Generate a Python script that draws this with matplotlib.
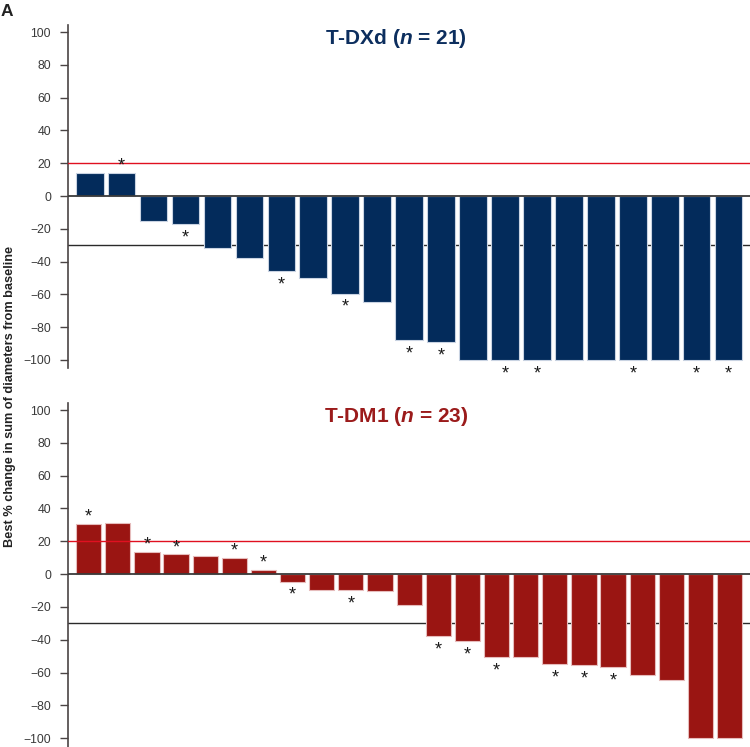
import matplotlib
matplotlib.use("Agg")
import matplotlib.pyplot as plt
import numpy as np

plt.rcParams['font.family'] = ['Liberation Sans', 'DejaVu Sans']
plt.rcParams['mathtext.fontset'] = 'custom'
plt.rcParams['mathtext.it'] = 'Liberation Sans:italic:bold'
plt.rcParams['mathtext.rm'] = 'Liberation Sans:bold'

# ---- data ----
tdxd_values = [14, 14, -15, -17, -32, -38, -45.5, -50, -59.5, -64.5, -88, -89,
               -100, -100, -100, -100, -100, -100, -100, -100, -100]
tdxd_star = [0, 1, 0, 1, 0, 0, 1, 0, 1, 0, 1, 1, 0, 1, 1, 0, 0, 1, 0, 1, 1]

tdm1_values = [30.5, 31, 13.5, 12, 11, 9.8, 2.5, -4.5, -9.5, -9.5, -10.5, -18.5,
               -37.5, -40.5, -50.5, -50.5, -54.5, -55.5, -56.5, -61.5, -64.5, -100, -100]
tdm1_star = [1, 0, 1, 1, 0, 1, 1, 1, 0, 1, 0, 0, 1, 1, 1, 0, 1, 1, 1, 0, 0, 0, 0]

yticks = [100, 80, 60, 40, 20, 0, -20, -40, -60, -80, -100]
pd_threshold = 20
pr_threshold = -30

W, H = 750, 747
fig = plt.figure(figsize=(W / 100, H / 100), dpi=100)

def fx(px):
    return px / W

def fy(py):
    return 1 - py / H

spine_col = '#4a4444'

def panel(ax_rect, values, stars, bar_col, edge_col, ylim, xpad):
    ax = fig.add_axes(ax_rect)
    x = np.arange(len(values))
    ax.bar(x, values, width=0.865, color=bar_col, edgecolor=edge_col,
           linewidth=0.8, zorder=2)
    ax.axhline(0, color='#3a3a3a', lw=1.3, zorder=3)
    ax.axhline(pd_threshold, color='#e01020', lw=1.0, zorder=3)
    ax.axhline(pr_threshold, color='#2a2a2a', lw=1.0, zorder=1.5)
    for xi, v, s in zip(x, values, stars):
        if s:
            off = 5.0 if v > 0 else -10.0
            ax.annotate('*', (xi, v), xytext=(0, off), textcoords='offset points',
                        ha='center', va='center', fontsize=13, color='#1a1a1a')
    ax.set_xlim(-xpad, len(values) - 1 + xpad)
    ax.set_ylim(*ylim)
    ax.set_yticks(yticks)
    ax.set_xticks([])
    for sp in ['top', 'right', 'bottom']:
        ax.spines[sp].set_visible(False)
    ax.spines['left'].set_color(spine_col)
    ax.spines['left'].set_linewidth(1.2)
    ax.tick_params(axis='y', direction='out', length=5.5, width=1.0,
                   color=spine_col, labelsize=8.8, labelcolor='#3a3a3a', pad=7)
    return ax

# top panel: T-DXd
panel([fx(68.3), fy(368), 1 - fx(68.3), (368 - 25) / H], tdxd_values, tdxd_star,
      '#032b5b', '#c9d3e2', (-104.9, 104.3), 0.67)
# bottom panel: T-DM1
panel([fx(68.3), 0, 1 - fx(68.3), (747 - 402.7) / H], tdm1_values, tdm1_star,
      '#9a1512', '#e6bcbc', (-105.3, 104.45), 0.70)

fig.text(fx(396), fy(39), r'T-DXd ($\mathit{n}$ = 21)', ha='center', va='center',
         fontsize=15, fontweight='bold', color='#0c2e5e')
fig.text(fx(396), fy(417), r'T-DM1 ($\mathit{n}$ = 23)', ha='center', va='center',
         fontsize=15, fontweight='bold', color='#9b1b1b')
fig.text(fx(1), fy(11), 'A', ha='left', va='center', fontsize=12.5,
         fontweight='bold', color='#222222')
fig.text(fx(10), fy(396), 'Best % change in sum of diameters from baseline',
         rotation=90, ha='center', va='center', fontsize=9.2, fontweight='bold',
         color='#222222')

fig.savefig('out.png', dpi=100)
